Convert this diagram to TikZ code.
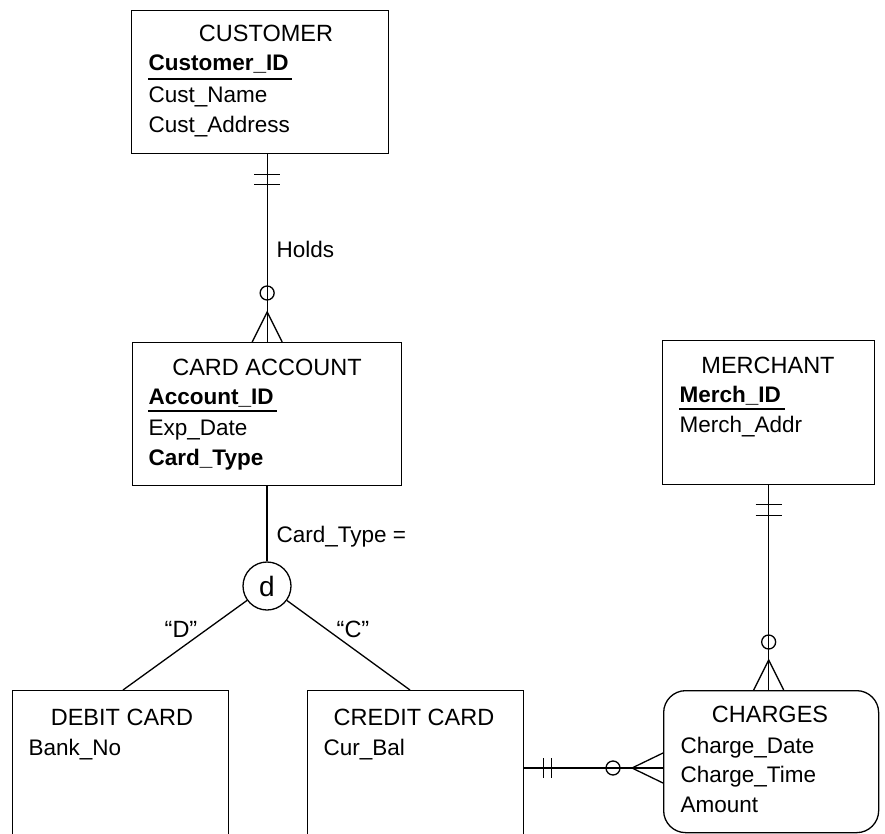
\documentclass[tikz,border=0pt]{standalone}
\usepackage{fontspec}
\setmainfont{Liberation Sans}
\usetikzlibrary{calc}
\begin{document}
\begin{tikzpicture}[x=1pt,y=-1pt,line width=1.3pt,
  ent/.style={draw,rectangle,anchor=north west,inner sep=0pt},
  ttl/.style={anchor=base,inner sep=0pt,font=\fontsize{23.5}{27}\selectfont},
  att/.style={anchor=base west,inner sep=0pt,font=\fontsize{22.5}{26}\selectfont},
  katt/.style={att,font=\fontsize{22.5}{26}\selectfont\bfseries},
  rel/.style={anchor=base west,inner sep=0pt,font=\fontsize{22.5}{26}\selectfont},
  ul/.style={line width=1.1pt}]
\path[use as bounding box] (0,0) rectangle (885,834);
\clip (0,0) rectangle (885,834);

% entities
\node[ent,minimum width=257pt,minimum height=143pt] (cust) at (131,10) {};
\node[ent,minimum width=269pt,minimum height=143pt] (ca) at (132,342) {};
\node[ent,minimum width=212pt,minimum height=144pt] (merch) at (662,340) {};
\node[ent,minimum width=216pt,minimum height=200pt] (debit) at (12,690) {};
\node[ent,minimum width=216pt,minimum height=200pt] (credit) at (307,690) {};
\node[ent,rounded corners=22pt,minimum width=215pt,minimum height=142pt] (charges) at (663,690) {};
\node[draw,circle,minimum size=48pt,inner sep=0pt,font=\fontsize{28}{30}\selectfont] (d) at (267,586) {d};

% CUSTOMER texts
\node[ttl] (custT) at (266,42) {CUSTOMER};
\node[katt] (custK) at (148,71) {Customer\_ID};
\node[att] (custA1) at (148,103) {Cust\_Name};
\node[att] (custA2) at (148,133) {Cust\_Address};
\draw[ul] ([yshift=-8pt]custK.base west) -- ([yshift=-8pt,xshift=3pt]custK.base east);

% CARD ACCOUNT texts
\node[ttl] (caT) at (267,375) {CARD ACCOUNT};
\node[katt] (caK) at (148,404) {Account\_ID};
\node[att] (caA1) at (148,435) {Exp\_Date};
\node[katt] (caA2) at (148,465) {Card\_Type};
\draw[ul] ([yshift=-7pt]caK.base west) -- ([yshift=-7pt,xshift=3pt]caK.base east);

% MERCHANT texts
\node[ttl] (mT) at (768,373) {MERCHANT};
\node[katt] (mK) at (679,402) {Merch\_ID};
\node[att] (mA1) at (679,432) {Merch\_Addr};
\draw[ul] ([yshift=-7pt]mK.base west) -- ([yshift=-7pt,xshift=3pt]mK.base east);

% DEBIT / CREDIT texts
\node[ttl] (dT) at (122,725) {DEBIT CARD};
\node[att] (dA1) at (28,755) {Bank\_No};
\node[ttl] (cT) at (414,725) {CREDIT CARD};
\node[att] (cA1) at (323,755) {Cur\_Bal};

% CHARGES texts
\node[ttl] (chT) at (770,722) {CHARGES};
\node[att] (chA1) at (680,753) {Charge\_Date};
\node[att] (chA2) at (680,782) {Charge\_Time};
\node[att] (chA3) at (680,812) {Amount};

% Holds relationship
\coordinate (hA) at (ca.north |- cust.south);
\draw (hA) -- (ca.north);
\draw ($(hA)+(-13,20)$) -- ++(26,0);
\draw ($(hA)+(-13,30)$) -- ++(26,0);
\draw ($(ca.north)+(0,-49)$) circle (7pt);
\draw ($(ca.north)+(-15,0)$) -- ($(ca.north)+(0,-30)$) -- ($(ca.north)+(15,0)$);
\node[rel] (holds) at (276,257) {Holds};

% subtype
\draw (ca.south -| d.north) -- (d.north);
\node[rel] (ctype) at (276,542) {Card\_Type =};
\coordinate (dTop) at ($(debit.north west)+(111,0)$);
\coordinate (cTop) at ($(credit.north west)+(103,0)$);
\draw (d) -- (dTop);
\draw (d) -- (cTop);
\node[ttl] (qD) at (181,637) {“D”};
\node[ttl] (qC) at (353,637) {“C”};

% Credit card - charges
\coordinate (cc) at ($(credit.north east)+(0,78)$);
\coordinate (ch) at (charges.west |- cc);
\draw (cc) -- (ch);
\draw ($(cc)+(19,-10)$) -- ++(0,20);
\draw ($(cc)+(27,-10)$) -- ++(0,20);
\draw ($(ch)+(-50,0)$) circle (7pt);
\draw ($(ch)+(0,-15)$) -- ($(ch)+(-31,0)$) -- ($(ch)+(0,15)$);

% Merchant - charges
\coordinate (mA) at (merch.south);
\coordinate (mB) at (merch.south |- charges.north);
\draw (mA) -- (mB);
\draw ($(mA)+(-13,19)$) -- ++(26,0);
\draw ($(mA)+(-13,30)$) -- ++(26,0);
\draw ($(mB)+(0,-48)$) circle (7pt);
\draw ($(mB)+(-15,0)$) -- ($(mB)+(0,-30)$) -- ($(mB)+(15,0)$);
\end{tikzpicture}
\end{document}
